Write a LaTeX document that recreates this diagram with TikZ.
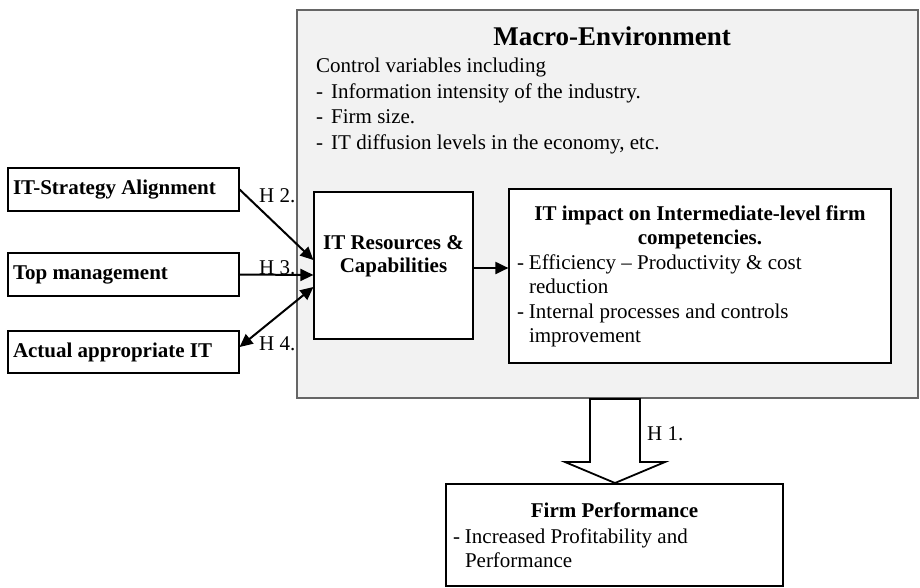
\documentclass[tikz,border=0pt]{standalone}
\usepackage{fontspec}
\setmainfont{Liberation Serif}
\usetikzlibrary{arrows.meta}

\newcommand{\txtsz}{\fontsize{21}{24}\selectfont}
\newcommand{\dsh}{\makebox[12pt][l]{-}}
\newcommand{\hng}{\hspace*{12pt}}

\begin{document}
\begin{tikzpicture}[x=1pt, y=-1pt,
  box/.style={draw, line width=1.2pt, fill=white, inner sep=0pt, font=\txtsz},
  lbox/.style={box, minimum width=231pt, minimum height=43pt, text width=221pt, align=flush left, font=\txtsz\bfseries},
  link/.style={line width=2pt, -{Triangle[length=13pt,width=12pt]}},
  hyp/.style={font=\txtsz, inner sep=0pt, anchor=west}]
\useasboundingbox (0,0) rectangle (920,587);

% Macro environment
\node[draw=black!60, fill=black!5, line width=1.2pt, minimum width=621pt, minimum height=388pt] (macro) at (607.5,204) {};
\node[font=\fontsize{27}{30}\selectfont\bfseries, inner sep=0pt] (mtitle) at (612,36) {Macro-Environment};
\node[anchor=north west, inner sep=0pt, font=\fontsize{21}{25.5}\selectfont, align=flush left] (ctrl) at (316,58)
  {Control variables including\\
   \makebox[15pt][l]{-}Information intensity of the industry.\\
   \makebox[15pt][l]{-}Firm size.\\
   \makebox[15pt][l]{-}IT diffusion levels in the economy, etc.};

% Drivers
\node[lbox] (strat) at (123.5,189.5) {IT-Strategy Alignment};
\node[lbox] (topm) at (123.5,274.5) {Top management};
\node[lbox, minimum height=42pt] (act) at (123.5,352) {Actual appropriate IT};

% Inner boxes
\node[box, minimum width=159pt, minimum height=147pt, align=center, font=\fontsize{21}{23}\selectfont\bfseries] (res) at (393.5,265.5)
  {IT Resources \&\\Capabilities\\\mbox{}};
\node[box, minimum width=382pt, minimum height=174pt, text width=366pt, align=flush left] (impact) at (700,276)
  {\parskip=1pt
   {\centering\textbf{IT impact on Intermediate-level firm\\competencies.}\par}
   \dsh Efficiency -- Productivity \& cost\\\hng reduction\\[1pt]
   \dsh Internal processes and controls\\\hng improvement};
\node[box, minimum width=337pt, minimum height=102pt, text width=323pt, align=flush left] (perf) at (614.5,535)
  {\parskip=2pt
   {\centering\textbf{Firm Performance}\par}
   \dsh Increased Profitability and\\\hng Performance\par\vspace{4pt}};

% Hypotheses
\draw[link] (strat.east) -- ([yshift=5.5pt]res.west);
\draw[link] (topm.east) -- ([yshift=-9.5pt]res.west);
\draw[link, {Triangle[length=13pt,width=12pt]}-{Triangle[length=13pt,width=12pt]}] ([yshift=5pt]act.east) -- ([yshift=-21.5pt]res.west);
\draw[link] ([yshift=-2.5pt]res.east) -- ([yshift=-2.5pt]res.east -| impact.west);
\node[hyp] (h2) at (259,196) {H 2.};
\node[hyp] (h3) at (259,268) {H 3.};
\node[hyp] (h4) at (259,344) {H 4.};

% Big arrow
\coordinate (tip) at (615,483);
\draw[line width=1.8pt, fill=white, line join=miter] (tip) -- ++(-50,-21) -- ++(25,0) -- ++(0,-63) -- ++(50,0) -- ++(0,63) -- ++(25,0) -- cycle;
\node[hyp] (h1) at (647,434) {H 1.};
\end{tikzpicture}
\end{document}
